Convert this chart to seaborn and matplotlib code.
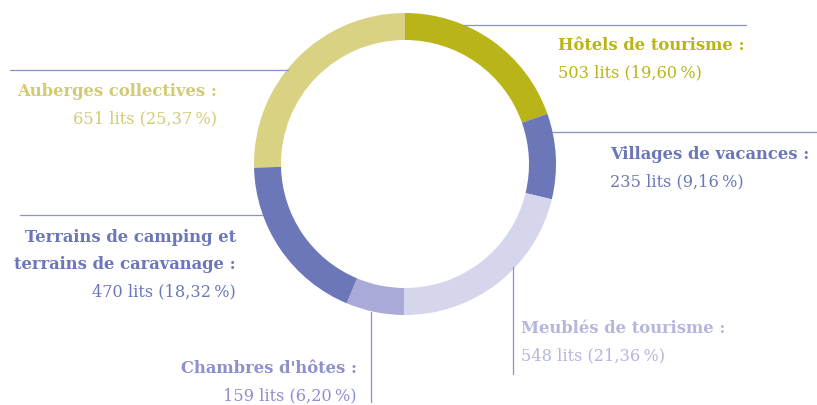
import matplotlib
matplotlib.use('Agg')
import matplotlib.pyplot as plt
import seaborn as sns

# categories, in clockwise order starting at 12 o'clock
categories = ['Hôtels de tourisme :', 'Villages de vacances :', 'Meublés de tourisme :',
              "Chambres d'hôtes :", 'Terrains de camping et\nterrains de caravanage :',
              'Auberges collectives :']
lits = [503, 235, 548, 159, 470, 651]
pct_labels = ['19,60', '9,16', '21,36', '6,20', '18,32', '25,37']

ring_colors = ['#b9b418', '#6b77b8', '#d5d5ec', '#a9aad7', '#6b77b8', '#d9d283']
text_colors = ['#b9b418', '#6b77b8', '#b4b6de', '#8d90cb', '#6b77b8', '#d3cb74']
line_color = '#8b90c9'

sns.set_theme(style='white')
plt.rcParams['font.family'] = ['DejaVu Serif', 'DejaVu Sans']

W, H = 817, 406
fig = plt.figure(figsize=(W / 100, H / 100), dpi=100)
ax = fig.add_axes([0, 0, 1, 1])

cx, cy, R = 405, 165, 151
ax.pie(lits, colors=ring_colors, startangle=90, counterclock=False,
       center=(cx, H - cy), radius=R,
       wedgeprops=dict(width=27, edgecolor='none'))

ax.set_xlim(0, W)
ax.set_ylim(0, H)
ax.set_aspect('auto')
ax.axis('off')

def Y(y):
    return H - y

# leader lines (pixel coordinates of the layout)
ax.plot([463, 746], [Y(26), Y(26)], color=line_color, lw=0.9)
ax.plot([552, 817], [Y(133), Y(133)], color=line_color, lw=0.9)
ax.plot([513, 513], [Y(268), Y(375)], color=line_color, lw=0.9)
ax.plot([371, 371], [Y(313), Y(403)], color=line_color, lw=0.9)
ax.plot([20, 262], [Y(216), Y(216)], color=line_color, lw=0.9)
ax.plot([10, 288], [Y(71), Y(71)], color=line_color, lw=0.9)

# label anchors: (x, y of first bold line, alignment)
anchors = [(558, 46, 'left'), (610, 155, 'left'), (521, 329, 'left'),
           (357, 369, 'right'), (236, 238, 'right'), (217, 92, 'right')]

step = 26.8
for cat, n, p, col, (x, y, ha) in zip(categories, lits, pct_labels, text_colors, anchors):
    lines = cat.split('\n')
    for i, line in enumerate(lines):
        ax.text(x, Y(y + i * step), line, color=col, fontsize=11.8, fontweight='bold',
                ha=ha, va='center')
    y2 = y + step * len(lines)
    ax.text(x, Y(y2), f'{n} lits ({p}\u2009%)', color=col, fontsize=11.6,
            ha=ha, va='center')

fig.savefig('out.png', dpi=100)
